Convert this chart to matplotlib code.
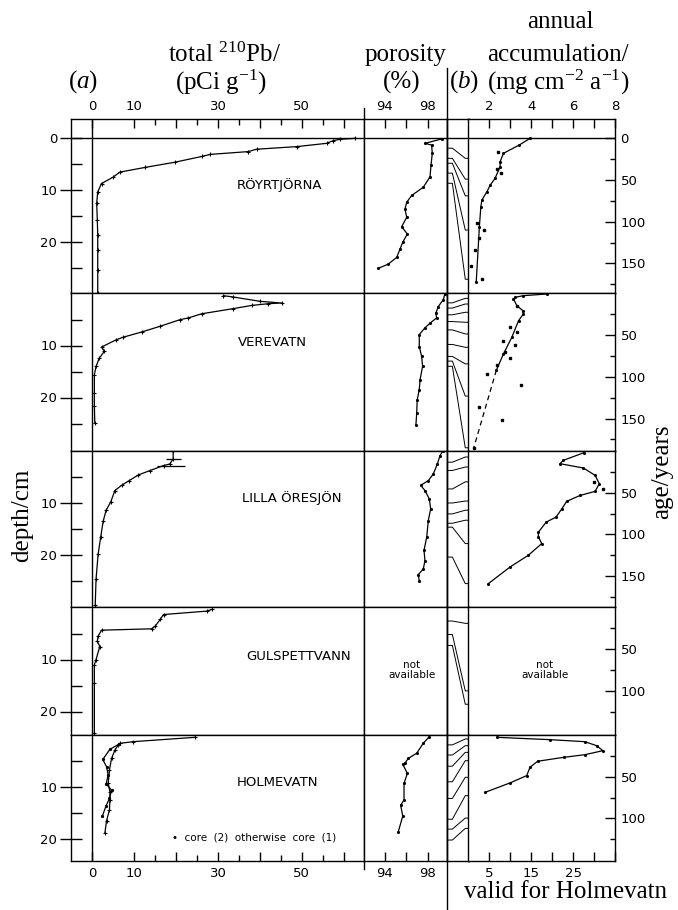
import matplotlib.pyplot as plt
from matplotlib.lines import Line2D

plt.rcParams['font.family'] = ['DejaVu Sans']
plt.rcParams['mathtext.fontset'] = 'custom'
plt.rcParams['mathtext.rm'] = 'Liberation Serif'
plt.rcParams['mathtext.it'] = 'Liberation Serif:italic'
plt.rcParams['axes.linewidth'] = 1.0

SERIF = 'Liberation Serif'

# ---------------- data ----------------
lake_names = ['RÖYRTJÖRNA', 'VEREVATN', 'LILLA ÖRESJÖN', 'GULSPETTVANN', 'HOLMEVATN']

# total 210Pb (pCi/g) against depth (cm)
roy_pb_depth = [0, 0.2, 0.45, 0.97, 1.6, 2.1, 2.56, 3.1, 3.5, 4.6, 5.6, 6.5, 7.5, 8.7,
                10.3, 12.5, 15.7, 18.6, 21.5, 25.3, 29.7]
roy_pb = [62.7, 59.1, 57.5, 55.9, 48.8, 39.2, 37.2, 28.1, 26.1, 19.7, 12.6, 6.6, 4.9, 2.2,
          1.3, 1.05, 1.2, 1.3, 1.3, 1.3, 1.3]

ver_pb_depth = [0.42, 0.68, 1.5, 1.83, 1.96, 2.3, 2.9, 3.9, 4.7, 5.04, 6.3, 7.4, 8.4, 8.9,
                10.3, 11.1, 12.4, 14.0, 15.6, 19.1, 21.6, 24.9]
ver_pb = [31.3, 33.7, 40.0, 45.2, 42.0, 38.0, 33.7, 26.1, 22.9, 20.9, 16.2, 11.8, 7.4, 5.7,
          2.2, 2.9, 1.7, 0.9, 0.5, 0.5, 0.5, 0.6]

lil_pb_depth = [0, 1.5, 2.5, 2.8, 3.75, 4.6, 5.7, 6.6, 7.6, 9.8, 11.4, 13.5, 16.6, 19.8, 24.6, 29.7]
lil_pb = [19.3, 19.3, 18.5, 17.0, 13.8, 11.0, 8.8, 7.0, 5.4, 4.4, 3.3, 2.6, 2.0, 1.4, 0.9, 0.7]
lil_err_depth = [1.5, 2.8]
lil_err_pb = [19.3, 18.8]
lil_err = [1.8, 3.4]

gul_pb_depth = [0.38, 0.7, 1.35, 2.3, 3.6, 4.1, 4.36, 5.5, 6.5, 7.5, 10.0, 11.0, 14.5, 24.1]
gul_pb = [28.5, 27.3, 17.0, 16.2, 15.0, 14.2, 2.2, 1.4, 1.2, 1.8, 0.9, 0.5, 0.5, 0.5]

hol1_pb_depth = [0.45, 1.28, 1.6, 1.92, 2.9, 4.5, 6.7, 9.3, 10.9, 12.5, 14.4, 16.5, 18.9]
hol1_pb = [24.5, 9.8, 6.6, 6.2, 5.4, 4.6, 4.1, 3.8, 4.2, 4.2, 4.1, 3.4, 3.0]
hol2_pb_depth = [1.73, 2.76, 4.7, 6.1, 7.7, 9.4, 10.6, 12.2, 13.6, 15.6]
hol2_pb = [6.4, 4.2, 2.5, 3.4, 3.8, 3.3, 4.6, 4.1, 3.3, 2.4]

# porosity (%) against depth (cm)
roy_por_depth = [0.13, 0.97, 1.3, 2.9, 5.2, 7.4, 9.4, 11.0, 12.3, 13.6, 15.2, 17.0, 18.4,
                 20.0, 21.3, 22.9, 24.2, 25.0]
roy_por = [99.27, 97.72, 98.34, 98.4, 98.28, 98.19, 97.57, 96.48, 96.02, 95.86, 96.02, 95.55,
           96.08, 95.65, 95.4, 95.09, 94.3, 93.38]

ver_por_depth = [0.04, 1.2, 2.5, 3.75, 4.7, 5.7, 6.6, 7.9, 10.2, 12.1, 14.0, 16.6, 18.5,
                 20.4, 23.0, 25.2]
ver_por = [99.58, 99.42, 98.96, 98.74, 98.8, 98.19, 97.72, 97.19, 97.19, 97.41, 97.5, 97.26,
           97.19, 97.0, 96.95, 96.88]

lil_por_depth = [0, 0.9, 2.5, 4.4, 5.7, 6.6, 7.6, 9.2, 11.1, 13.4, 16.6, 19.1, 21.1, 22.7,
                 23.75, 25.0]
lil_por = [99.37, 99.12, 98.87, 98.5, 98.03, 97.32, 97.72, 98.12, 98.25, 98.03, 97.88, 97.63,
           97.72, 97.56, 97.1, 97.19]

hol_por_depth = [0.32, 1.6, 3.5, 4.5, 5.4, 5.6, 7.4, 9.3, 12.5, 13.5, 15.6, 18.6]
hol_por = [98.12, 97.56, 96.95, 96.17, 95.86, 95.65, 96.08, 95.77, 95.77, 95.46, 95.65, 95.24]

# annual accumulation (mg cm-2 a-1) against age (years)
roy_acc_age = [0, 8, 18, 28, 34, 48, 56, 64, 74, 82, 106, 172]
roy_acc = [3.94, 3.43, 2.67, 2.51, 2.51, 2.27, 2.04, 1.88, 1.64, 1.59, 1.52, 1.37]
roy_dot_age = [17, 37, 42, 101, 110, 120, 134, 153, 169]
roy_dot = [2.43, 2.35, 2.55, 1.4, 1.75, 1.51, 1.32, 1.13, 1.64]

ver_acc_age = [0.6, 2.6, 4.6, 6.6, 14.6, 20.6, 24.6, 32.6, 52.5, 72.5, 92]
ver_acc = [4.74, 3.62, 3.23, 3.15, 3.31, 3.6, 3.62, 3.39, 3.07, 2.67, 2.33]
ver_dash_age = [92, 186]
ver_dash = [2.33, 1.24]
ver_dot_age = [14.6, 40.6, 45.8, 56.5, 61.7, 70.5, 77.7, 85.6, 97, 110, 136, 151.5, 185]
ver_dot = [3.31, 2.99, 3.34, 2.67, 3.23, 2.75, 2.99, 2.38, 1.88, 3.51, 1.51, 2.59, 1.24]

lil_acc_age = [2.0, 11.2, 15.2, 20.4, 29.2, 39.2, 48.4, 53.3, 60.4, 69.3, 79.3, 85.3, 97.3,
               103, 111, 125, 139, 159]
lil_acc = [6.52, 5.53, 5.37, 6.49, 7.05, 7.25, 7.05, 6.33, 5.69, 5.46, 5.18, 4.71, 4.34,
           4.34, 4.5, 3.86, 2.99, 1.95]
lil_dot_age = [37.2, 45.2]
lil_dot = [7.01, 7.44]

# Holmevatn uses the lower scale (5-fold)
hol_acc_age = [2.8, 5.6, 8, 12.8, 18.8, 23.6, 26.8, 31.5, 38.7, 48.7, 57.5, 68.7]
hol_acc = [6.8, 19.5, 27.8, 30.6, 32.1, 27.8, 22.7, 16.5, 14.7, 13.9, 9.9, 4.0]

# depth (cm) -> age (years) conversion lines, part (b)
roy_conv_depth = [1.9, 3.85, 4.8, 6.7, 8.65]
roy_conv_age = [24, 49, 69, 110, 169]
ver_conv_depth = [1.8, 2.8, 4.1, 5.4, 7.0, 9.8, 12.1, 13.0, 14.0]
ver_conv_age = [5.8, 12.6, 22.5, 34.5, 48.5, 64.5, 84.4, 123, 185]
lil_conv_depth = [2.15, 3.75, 7.3, 10.0, 12.1, 13.9, 14.65, 20.4]
lil_conv_age = [7.2, 19.2, 37, 60, 71, 83, 111, 159]
gul_conv_depth = [2.6, 5.2, 7.3]
gul_conv_age = [19, 100, 116]
hol_conv_depth = [1.9, 3.85, 6.0, 9.0, 12.2, 16.2, 18.1, 20.2]
hol_conv_age = [4.8, 12.8, 20.8, 30.8, 50.7, 72.7, 99.6, 112]

# ---------------- layout (pixels of the original) ----------------
W, H = 678, 910
col_x = [71, 363.5, 447, 468.5, 615]
row_y = [119, 293, 451, 607, 735, 861]
zero_y = [138.3, 293.5, 451, 607.5, 735]
PX_CM = 5.2
PX_YR = 0.834
PB_LIM = (-5.08, 64.73)
POR_LIM = (92.0, 99.77)
ACC_LIM = (1, 8)
ACC_LIM_HOL = (0, 35)

fig = plt.figure(figsize=(W / 100, H / 100), dpi=100)


def rect(c, r):
    x0, x1 = col_x[c], col_x[c + 1]
    y0, y1 = row_y[r], row_y[r + 1]
    return [x0 / W, 1 - y1 / H, (x1 - x0) / W, (y1 - y0) / H]


def fx(px):
    return px / W


def fy(py):
    return 1 - py / H


def bare(ax):
    ax.tick_params(which='both', bottom=False, top=False, left=False, right=False,
                   labelbottom=False, labeltop=False, labelleft=False, labelright=False)


pb_data = [
    [(roy_pb, roy_pb_depth, '+')],
    [(ver_pb, ver_pb_depth, '+')],
    [(lil_pb, lil_pb_depth, '+')],
    [(gul_pb, gul_pb_depth, '+')],
    [(hol1_pb, hol1_pb_depth, '+'), (hol2_pb, hol2_pb_depth, '.')],
]
por_data = [(roy_por, roy_por_depth), (ver_por, ver_por_depth), (lil_por, lil_por_depth),
            None, (hol_por, hol_por_depth)]
acc_data = [(roy_acc, roy_acc_age), (ver_acc, ver_acc_age), (lil_acc, lil_acc_age),
            None, (hol_acc, hol_acc_age)]
dot_data = [(roy_dot, roy_dot_age), (ver_dot, ver_dot_age), (lil_dot, lil_dot_age), None, None]
conv_data = [(roy_conv_depth, roy_conv_age), (ver_conv_depth, ver_conv_age),
             (lil_conv_depth, lil_conv_age), (gul_conv_depth, gul_conv_age),
             (hol_conv_depth, hol_conv_age)]

LW = 0.9
tick_font = 9.5

for r in range(5):
    d_top = (row_y[r] - zero_y[r]) / PX_CM
    d_bot = (row_y[r + 1] - zero_y[r]) / PX_CM
    a_top = (row_y[r] - zero_y[r]) / PX_YR
    a_bot = (row_y[r + 1] - zero_y[r]) / PX_YR

    ax_pb = fig.add_axes(rect(0, r))
    ax_por = fig.add_axes(rect(1, r))
    ax_cv = fig.add_axes(rect(2, r))
    ax_acc = fig.add_axes(rect(3, r))
    for ax in (ax_pb, ax_por, ax_cv, ax_acc):
        bare(ax)
        ax.set_ylim(d_bot, d_top)
        if r == 0:
            ax.axhline(0, color='k', lw=1.0)
    ax_acc.set_ylim(a_bot, a_top)

    # ---- 210Pb ----
    ax_pb.set_xlim(*PB_LIM)
    ax_pb.axvline(0, color='k', lw=1.0)
    for vals, dep, mk in pb_data[r]:
        ax_pb.plot(vals, dep, color='k', lw=LW, marker=mk, ms=3.2 if mk == '+' else 3, mew=0.8)
    if r == 2:
        ax_pb.errorbar(lil_err_pb, lil_err_depth, xerr=lil_err, fmt='none', ecolor='k',
                       elinewidth=0.9, capsize=0)
    maj = [d for d in (0, 10, 20) if (r == 0 or d > 0) and d < d_bot - 1]
    ax_pb.set_yticks(maj, [str(d) for d in maj])
    ax_pb.set_yticks([d for d in (5, 15, 25) if d < d_bot - 1], minor=True)
    ax_pb.tick_params(axis='y', which='major', left=True, labelleft=True, direction='inout',
                      length=16, width=1.0, pad=2, labelsize=tick_font)
    ax_pb.tick_params(axis='y', which='minor', left=True, direction='in', length=8, width=1.0)

    # ---- porosity ----
    ax_por.set_xlim(*POR_LIM)
    if por_data[r] is not None:
        vals, dep = por_data[r]
        ax_por.plot(vals, dep, color='k', lw=LW, marker='.', ms=2.5)

    # ---- conversion lines ----
    ax_cv.set_xlim(0, 1)
    dep, age = conv_data[r]
    for d, a in zip(dep, age):
        ya = a * PX_YR / PX_CM
        ax_cv.plot([0, 0.25, 0.85, 1], [d, d, ya, ya], color='k', lw=0.7)

    # ---- accumulation ----
    ax_acc.set_xlim(*(ACC_LIM_HOL if r == 4 else ACC_LIM))
    if acc_data[r] is not None:
        vals, age = acc_data[r]
        ax_acc.plot(vals, age, color='k', lw=LW, marker='.', ms=2.5)
    if dot_data[r] is not None:
        vals, age = dot_data[r]
        ax_acc.plot(vals, age, ls='none', marker='s', ms=1.6, color='k')
    if r == 1:
        ax_acc.plot(ver_dash, ver_dash_age, color='k', lw=LW, ls=(0, (4, 3)))
    amaj = [a for a in (0, 50, 100, 150) if (r == 0 or a > 0) and a < a_bot - 5]
    ax_acc.set_yticks(amaj, [str(a) for a in amaj])
    ax_acc.set_yticks([a for a in (25, 75, 125, 175) if a < a_bot - 3], minor=True)
    ax_acc.tick_params(axis='y', which='major', right=True, labelright=True, direction='in',
                       length=7, width=1.0, pad=4, labelsize=tick_font)
    ax_acc.tick_params(axis='y', which='minor', right=True, direction='in', length=3.5, width=1.0)

    # ---- x axes on top / bottom ----
    if r in (0, 4):
        side = dict(top=True, labeltop=True) if r == 0 else dict(bottom=True, labelbottom=True)
        ax_pb.set_xticks([0, 10, 20, 30, 40, 50, 60], ['0', '10', '', '30', '', '50', ''])
        ax_pb.set_xticks([15, 25, 35, 45, 55], minor=True)
        ax_por.set_xticks([94, 96, 98], ['94', '', '98'])
        if r == 0:
            ax_acc.set_xticks([2, 3, 4, 5, 6, 7, 8], ['2', '', '4', '', '6', '', '8'])
        else:
            ax_acc.set_xticks([5, 10, 15, 20, 25, 30, 35], ['5', '', '15', '', '25', '', ''])
        for ax in (ax_pb, ax_por, ax_acc):
            ax.tick_params(axis='x', which='major', direction='in', length=6.5, width=1.0,
                           pad=4, labelsize=tick_font, **side)
            ax.tick_params(axis='x', which='minor', direction='in', length=4.5, width=1.0,
                           **{k: v for k, v in side.items() if not k.startswith('label')})

# lake names
name_pos = [(279, 185), (272, 342), (292, 498), (299, 657), (277, 782)]
for name, (px, py) in zip(lake_names, name_pos):
    fig.text(fx(px), fy(py), name, ha='center', va='center', fontsize=9.5)

fig.text(fx(254), fy(837), '•  core  (2)  otherwise  core  (1)', ha='center', va='center',
         fontsize=7.5)
for px in (412, 545):
    fig.text(fx(px), fy(670), 'not\navailable', ha='center', va='center', fontsize=7.5,
             linespacing=1.1)

# headings
hs = 18
fig.text(fx(83), fy(82), r'($\mathit{a}$)', ha='center', va='center', family=SERIF, fontsize=hs)
fig.text(fx(225), fy(55), r'total $^{210}$Pb/', ha='center', va='center', family=SERIF, fontsize=hs)
fig.text(fx(221), fy(82), r'(pCi g$^{-1}$)', ha='center', va='center', family=SERIF, fontsize=hs)
fig.text(fx(406), fy(55), 'porosity', ha='center', va='center', family=SERIF, fontsize=hs)
fig.text(fx(402), fy(82), '(%)', ha='center', va='center', family=SERIF, fontsize=hs)
fig.text(fx(560), fy(22), 'annual', ha='center', va='center', family=SERIF, fontsize=hs)
fig.text(fx(558), fy(55), 'accumulation/', ha='center', va='center', family=SERIF, fontsize=hs)
fig.text(fx(464), fy(82), r'($\mathit{b}$)', ha='center', va='center', family=SERIF, fontsize=hs)
fig.text(fx(558), fy(82), r'(mg cm$^{-2}$ a$^{-1}$)', ha='center', va='center', family=SERIF,
         fontsize=hs)
fig.text(fx(566), fy(892), 'valid for Holmevatn', ha='center', va='center', family=SERIF,
         fontsize=hs)
fig.text(fx(22), fy(515), 'depth/cm', ha='center', va='center', rotation=90, family=SERIF,
         fontsize=hs)
fig.text(fx(662), fy(472), 'age/years', ha='center', va='center', rotation=90, family=SERIF,
         fontsize=hs)

# divider lines running past the frame
fig.add_artist(Line2D([fx(447), fx(447)], [fy(68), fy(910)], color='k', lw=1.0))
fig.add_artist(Line2D([fx(363.5), fx(363.5)], [fy(108), fy(119)], color='k', lw=1.0))
fig.add_artist(Line2D([fx(363.5), fx(363.5)], [fy(861), fy(869)], color='k', lw=1.0))

fig.savefig('out.png', dpi=100)
